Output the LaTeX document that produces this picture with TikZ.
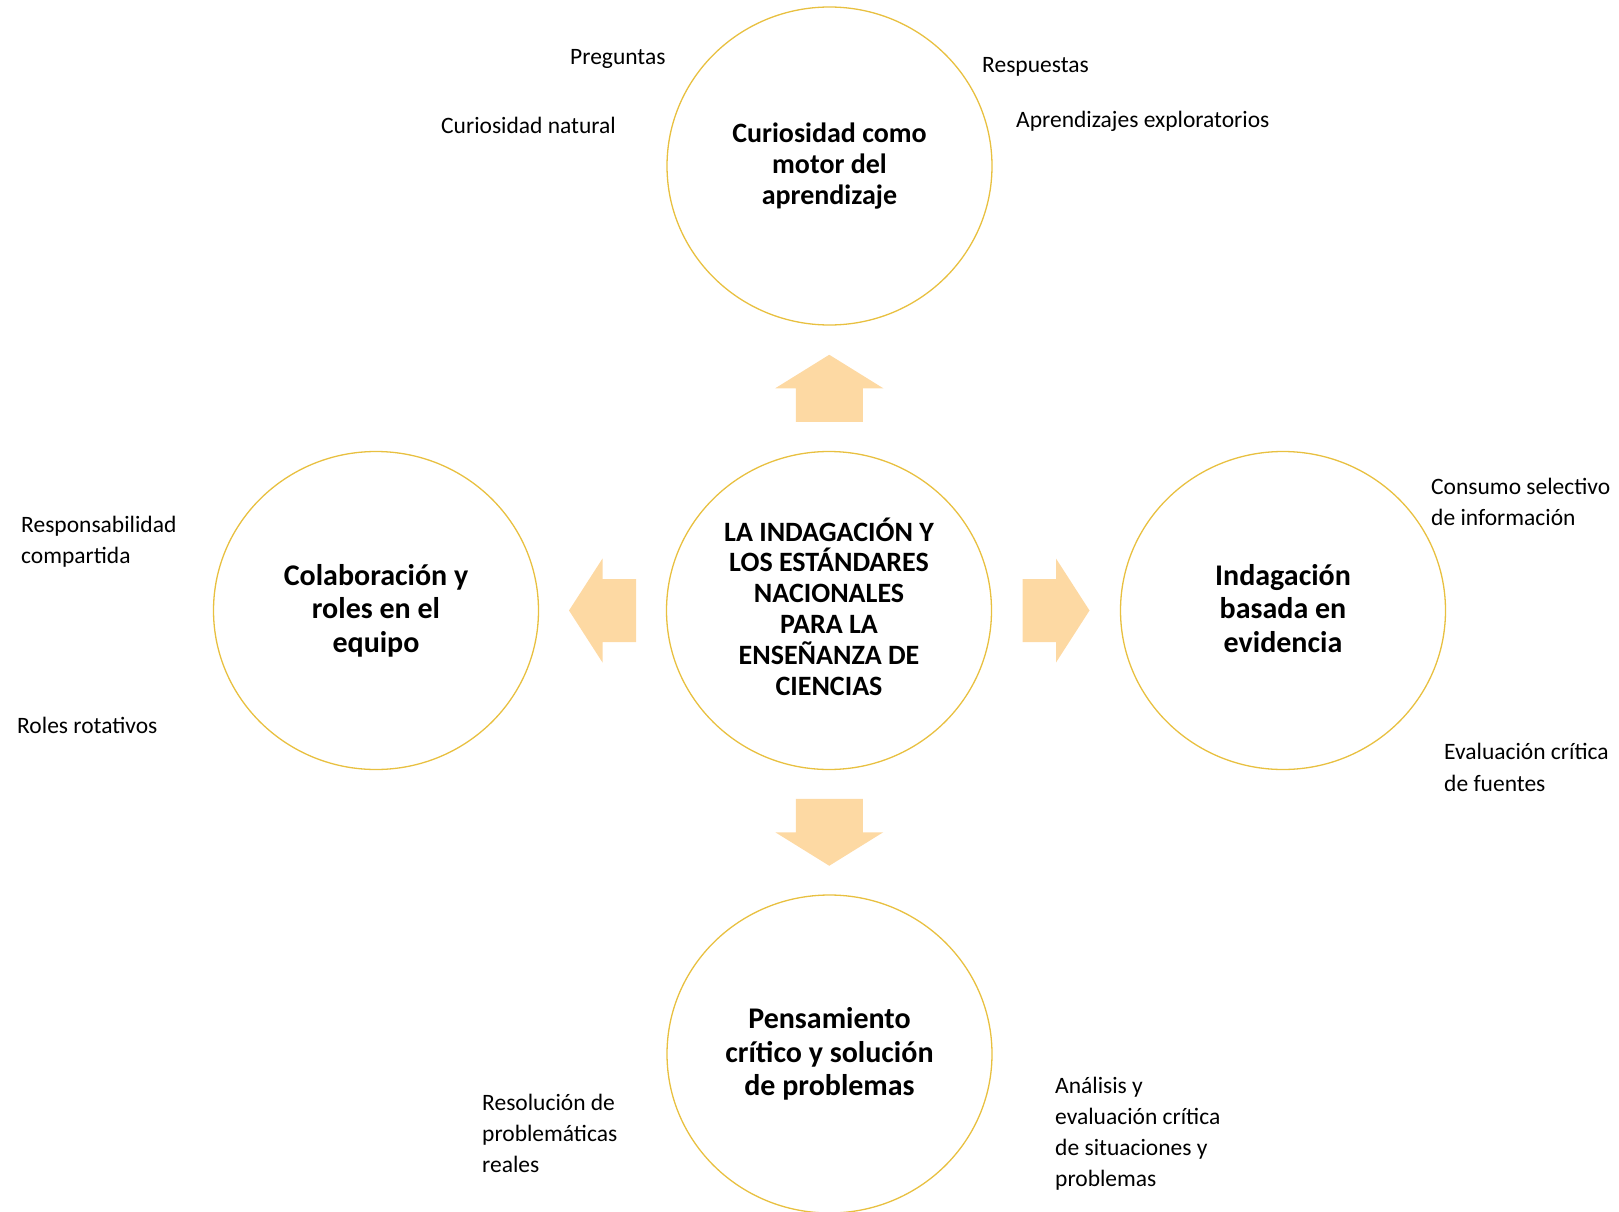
\documentclass[tikz,border=0pt]{standalone}
\usepackage{fontspec}
\setmainfont{Carlito}
\usetikzlibrary{shapes.geometric,calc}
\definecolor{ringcol}{RGB}{232,192,64}
\definecolor{arrowcol}{RGB}{253,217,163}
\tikzset{
  ring/.style={ellipse, draw=ringcol, line width=1.3pt, minimum width=325pt, minimum height=318pt, inner sep=0pt, align=center},
  ringA/.style={ring, font=\bfseries\fontsize{28}{30.8}\selectfont},
  ringB/.style={ring, font=\bfseries\fontsize{30}{33.5}\selectfont},
  midtxt/.style={inner sep=0pt, align=center, font=\bfseries\fontsize{28}{30.8}\selectfont},
  sidetxt/.style={inner sep=0pt, align=center, font=\bfseries\fontsize{30}{33.5}\selectfont},
  lbl/.style={anchor=base west, inner sep=0pt, align=left, font=\fontsize{23.5}{31}\selectfont},
  blockarrow/.style={fill=arrowcol, draw=none}
}
\begin{document}
\begin{tikzpicture}[x=1pt,y=-1pt]
\useasboundingbox (0,0) rectangle (1619,1212);

% circles
\node[ringA] (top) at (829.5,166) {Curiosidad como\\motor del\\aprendizaje};
\node[ring] (mid) at (829,610.5) {};
\node[midtxt] (midtext) at ($(mid.center)+(0,-4)$) {LA INDAGACIÓN Y\\LOS ESTÁNDARES\\NACIONALES\\PARA LA\\ENSEÑANZA DE\\CIENCIAS};
\node[ringB] (left) at (376,610.5) {Colaboración y\\roles en el\\equipo};
\node[ring] (right) at (1283,610.5) {};
\node[sidetxt] (righttext) at ($(right.center)+(0,-2)$) {Indagación\\basada en\\evidencia};
\node[ringB] (bot) at (829.5,1054) {Pensamiento\\crítico y solución\\de problemas};

% arrow positions
\coordinate (aU) at ($(top.south)!0.5!(mid.north)$);
\coordinate (aD) at ($(mid.south)!0.5!(bot.north)$);
\coordinate (aL) at ($(left.east)!0.5!(mid.west)$);
\coordinate (aR) at ($(mid.east)!0.5!(right.west)$);

\begin{scope}[shift={(aU)}]
  \fill[blockarrow] (-33.5,33.5) -- (-33.5,0) -- (-54,0) -- (0,-33.5) -- (54,0) -- (33.5,0) -- (33.5,33.5) -- cycle;
\end{scope}
\begin{scope}[shift={(aD)}]
  \fill[blockarrow] (-33.5,-33.5) -- (-33.5,0) -- (-54,0) -- (0,33.5) -- (54,0) -- (33.5,0) -- (33.5,-33.5) -- cycle;
\end{scope}
\begin{scope}[shift={(aL)}]
  \fill[blockarrow] (33.5,-31.5) -- (0,-31.5) -- (0,-52) -- (-33.5,0) -- (0,52) -- (0,31.5) -- (33.5,31.5) -- cycle;
\end{scope}
\begin{scope}[shift={(aR)}]
  \fill[blockarrow] (-33.5,-31.5) -- (0,-31.5) -- (0,-52) -- (33.5,0) -- (0,52) -- (0,31.5) -- (-33.5,31.5) -- cycle;
\end{scope}

% labels (anchor = baseline of the last line)
\node[lbl] (l1) at (570,65) {Preguntas};
\node[lbl] (l2) at (441,134) {Curiosidad natural};
\node[lbl] (l3) at (982,73) {Respuestas};
\node[lbl] (l4) at (1016,128) {Aprendizajes exploratorios};
\node[lbl] (l5) at (21,563) {Responsabilidad\\compartida};
\node[lbl] (l6) at (17,733) {Roles rotativos};
\node[lbl] (l7) at (1431,525) {Consumo selectivo\\de información};
\node[lbl, font=\fontsize{23.5}{32}\selectfont] (l8) at (1444,791) {Evaluación crítica\\de fuentes};
\node[lbl] (l9) at (482,1172) {Resolución de\\problemáticas\\reales};
\node[lbl] (l10) at (1055,1186) {Análisis y\\evaluación crítica\\de situaciones y\\problemas};
\end{tikzpicture}
\end{document}
